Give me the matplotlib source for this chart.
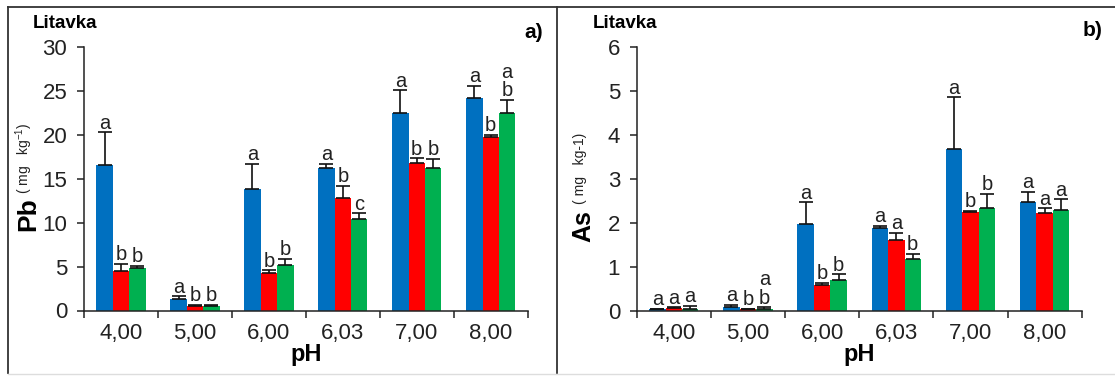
import matplotlib
matplotlib.use("Agg")
import matplotlib.pyplot as plt
from matplotlib.lines import Line2D
import numpy as np

categories = ["4,00", "5,00", "6,00", "6,03", "7,00", "8,00"]

# Panel a) Pb
pb_blue = [16.6, 1.33, 13.8, 16.2, 22.5, 24.2]
pb_blue_err = [3.7, 0.3, 2.9, 0.5, 2.6, 1.4]
pb_red = [4.47, 0.53, 4.3, 12.8, 16.8, 19.8]
pb_red_err = [0.83, 0.11, 0.3, 1.4, 0.55, 0.2]
pb_green = [4.85, 0.5, 5.2, 10.45, 16.2, 22.5]
pb_green_err = [0.25, 0.14, 0.7, 0.6, 1.1, 1.5]
pb_letters_blue = ["a", "a", "a", "a", "a", "a"]
pb_letters_red = ["b", "b", "b", "b", "b", "b"]
pb_letters_green = ["b", "b", "b", "c", "b", "a\nb"]

# Panel b) As
as_blue = [0.04, 0.08, 1.98, 1.87, 3.67, 2.48]
as_blue_err = [0.01, 0.06, 0.49, 0.06, 1.18, 0.22]
as_red = [0.06, 0.04, 0.58, 1.61, 2.25, 2.21]
as_red_err = [0.02, 0.005, 0.06, 0.16, 0.02, 0.12]
as_green = [0.05, 0.05, 0.70, 1.18, 2.34, 2.30]
as_green_err = [0.06, 0.03, 0.13, 0.12, 0.32, 0.23]
as_letters_blue = ["a", "a", "a", "a", "a", "a"]
as_letters_red = ["a", "b", "b", "a", "b", "a"]
as_letters_green = ["a", "a\nb", "b", "b", "b", "a"]

colors = ["#0070C0", "#FF0000", "#00B050"]
FONT = ["Liberation Sans Narrow", "Liberation Sans", "DejaVu Sans"]
plt.rcParams["font.family"] = FONT
BOLD = ["Liberation Sans", "DejaVu Sans"]

W, H = 1115, 376
fig = plt.figure(figsize=(W / 100, H / 100), dpi=100)

def fx(px):
    return px / W

def fy(py):
    return 1 - py / H

axA = fig.add_axes([fx(84), fy(310.5), fx(527.7 - 84), (310.5 - 47) / H])
axB = fig.add_axes([fx(636.7), fy(310.7), fx(1081.7 - 636.7), (310.7 - 46.7) / H])

bw = 0.222
x = np.arange(len(categories))

def draw(ax, series, errs, letters, ymax, step):
    for i, (vals, err, lets) in enumerate(zip(series, errs, letters)):
        pos = x + (i - 1) * bw
        ax.bar(pos, vals, width=bw, color=colors[i], edgecolor="none", zorder=2)
        ax.errorbar(pos, vals, yerr=[np.zeros(len(vals)), err], fmt="none",
                    ecolor="#111111", elinewidth=1.2, capsize=5, capthick=1.2, zorder=3)
        for p, v, e, t in zip(pos, vals, err, lets):
            ax.annotate(t, (p, v + e), xytext=(0, 2.5), textcoords="offset points",
                        ha="center", va="baseline", fontsize=14.5, color="#222222",
                        linespacing=0.95, zorder=4)
    ax.set_xlim(-0.5, len(categories) - 0.5)
    ax.set_ylim(0, ymax)
    ax.set_yticks(np.arange(0, ymax + 0.001, step))
    ax.set_yticklabels([f"{int(v)}" for v in np.arange(0, ymax + 0.001, step)])
    ax.set_xticks(np.arange(-0.5, len(categories), 1.0))
    ax.set_xticklabels([])
    ax.set_xticks(x, minor=True)
    ax.set_xticklabels(categories, minor=True)
    ax.tick_params(axis="x", which="major", length=5, width=1.1, color="#222222", direction="out")
    ax.tick_params(axis="x", which="minor", length=0, pad=9, labelsize=16, labelcolor="#222222")
    ax.tick_params(axis="y", length=5, width=1.1, color="#222222", pad=7,
                   labelsize=16, labelcolor="#222222")
    for s in ["top", "right"]:
        ax.spines[s].set_visible(False)
    for s in ["left", "bottom"]:
        ax.spines[s].set_linewidth(1.1)
        ax.spines[s].set_color("#222222")
    ax.set_facecolor("none")

draw(axA, [pb_blue, pb_red, pb_green], [pb_blue_err, pb_red_err, pb_green_err],
     [pb_letters_blue, pb_letters_red, pb_letters_green], 30, 5)
draw(axB, [as_blue, as_red, as_green], [as_blue_err, as_red_err, as_green_err],
     [as_letters_blue, as_letters_red, as_letters_green], 6, 1)

# Titles and panel letters
fig.text(fx(33), fy(24), "Litavka", ha="left", va="center", fontsize=13.5,
         fontweight="bold", family=BOLD)
fig.text(fx(543), fy(32), "a)", ha="right", va="center", fontsize=15,
         fontweight="bold", family=BOLD)
fig.text(fx(593), fy(24), "Litavka", ha="left", va="center", fontsize=13.5,
         fontweight="bold", family=BOLD)
fig.text(fx(1102), fy(31), "b)", ha="right", va="center", fontsize=15,
         fontweight="bold", family=BOLD)

# Y labels
fig.text(fx(28), fy(214), "Pb", rotation=90, ha="center", va="center", fontsize=19,
         fontweight="bold", family=BOLD)
fig.text(fx(24), fy(158), "( mg   kg$^{\\mathregular{-1}}$)", rotation=90, ha="center",
         va="center", fontsize=10, color="#222222")
fig.text(fx(583), fy(226), "As", rotation=90, ha="center", va="center", fontsize=18,
         fontweight="bold", family=BOLD)
fig.text(fx(580), fy(168), "( mg   kg-1)", rotation=90, ha="center",
         va="center", fontsize=10, color="#222222")

# X labels
fig.text(fx(306), fy(355), "pH", ha="center", va="center", fontsize=17,
         fontweight="bold", family=BOLD)
fig.text(fx(859), fy(355), "pH", ha="center", va="center", fontsize=17,
         fontweight="bold", family=BOLD)

# Frames
lc = "#333333"
fig.add_artist(Line2D([fx(8), 1], [fy(7), fy(7)], color=lc, lw=1.3, transform=fig.transFigure))
fig.add_artist(Line2D([fx(8), fx(8)], [fy(7), fy(373)], color=lc, lw=1.3, transform=fig.transFigure))
fig.add_artist(Line2D([fx(557), fx(557)], [fy(7), fy(373)], color=lc, lw=1.3, transform=fig.transFigure))
fig.add_artist(Line2D([fx(8), 1], [fy(373.5), fy(373.5)], color="#dddddd", lw=1.0, transform=fig.transFigure))

fig.savefig("out.png", dpi=100)
